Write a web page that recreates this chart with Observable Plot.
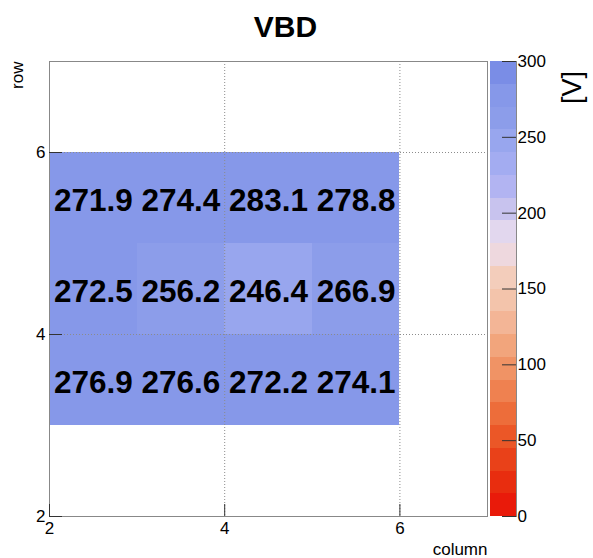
<!DOCTYPE html>
<html>
<head>
<meta charset="utf-8">
<script src="https://cdn.jsdelivr.net/npm/d3@7"></script>
<script src="https://cdn.jsdelivr.net/npm/@observablehq/plot@0.6"></script>
<style>
  body { margin: 0; background: #fff; }
  #chart { position: relative; width: 593px; height: 558px; font-family: "Liberation Sans", Arial, Helvetica, sans-serif; }
  #chart svg { position: absolute; left: 0; top: 0; }
</style>
</head>
<body>
<div id="chart"></div>
<script>
// Bin lower edges of the 2D histogram
const columns = [2, 3, 4, 5];
const rows = [5, 4, 3];
// Breakdown voltage per bin, one row per entry of `rows`
const vbd = [
  [271.9, 274.4, 283.1, 278.8],
  [272.5, 256.2, 246.4, 266.9],
  [276.9, 276.6, 272.2, 274.1]
];
const xTicks = [2, 4, 6];
const yTicks = [2, 4, 6];
const zTicks = [0, 50, 100, 150, 200, 250, 300];
// Contour levels of the palette (20 bands)
const zLevels = [0, 15, 30, 45, 60, 75, 90, 105, 120, 135, 150, 165, 180, 195, 210, 225, 240, 255, 270, 285, 300];
// Band colours, from the lowest level to the highest
const palette = [
  "#e91a0a", "#e82d0f", "#e94119", "#eb5727", "#ed6d3a",
  "#ef8150", "#f09365", "#f2a57c", "#f3b596", "#f3c4ab",
  "#f3cdbb", "#eed8de", "#e2d7ee", "#c8c3ee", "#b2b4f2",
  "#a3acf1", "#98a6ee", "#8c9dea", "#8698e9", "#7a8de6"
];

const W = 593, H = 558;
const frameL = 49, frameR = 487, frameT = 61, frameB = 516;
const barL = 490, barR = 516;
const font = "'Liberation Sans', Arial, Helvetica, sans-serif";

const color = { type: "threshold", domain: zLevels.slice(1, -1), range: palette };
const cells = rows.flatMap((r, i) => columns.map((c, j) => ({ row: r, col: c, v: vbd[i][j] })));
const bands = zLevels.slice(0, -1).map((lo, i) => ({ lo, hi: zLevels[i + 1] }));

const main = Plot.plot({
  width: W, height: H,
  marginLeft: frameL, marginRight: W - frameR, marginTop: frameT, marginBottom: H - frameB,
  style: { background: "transparent", fontFamily: font, color: "#000" },
  x: { domain: [2, 7] },
  y: { domain: [2, 7] },
  color,
  marks: [
    Plot.rect(cells, {
      x1: "col", x2: d => d.col + 1, y1: "row", y2: d => d.row + 1, fill: "v",
      shapeRendering: "crispEdges"
    }),
    Plot.ruleX([4, 6], { stroke: "#8c8c8c", strokeDasharray: "1,2" }),
    Plot.ruleY([4, 6], { stroke: "#8c8c8c", strokeDasharray: "1,2" }),
    Plot.text(cells, {
      x: d => d.col + 0.5, y: d => d.row + 0.5, text: d => d.v.toFixed(1),
      fontSize: 31.5, fontWeight: "bold", fill: "#000", dy: 3
    }),
    Plot.frame({ stroke: "#888" }),
    Plot.tickX(xTicks, { x: d => d, insetTop: (frameB - frameT) - 12, stroke: "#333" }),
    Plot.tickY(yTicks, { y: d => d, insetRight: (frameR - frameL) - 13, stroke: "#333" }),
    Plot.axisX(xTicks, { tickSize: 0, tickPadding: 5, fontSize: 17, label: null, tickFormat: "d" }),
    Plot.axisY(yTicks, { tickSize: 0, tickPadding: 4, fontSize: 17, label: null, tickFormat: "d" }),
    Plot.text(["row"], {
      text: d => d, frameAnchor: "top-left", rotate: -90, dx: -32,
      textAnchor: "end", lineAnchor: "middle", fontSize: 17
    }),
    Plot.text(["column"], {
      text: d => d, frameAnchor: "bottom-right", textAnchor: "end", lineAnchor: "bottom",
      dy: 38, fontSize: 17
    }),
    Plot.text(["VBD"], {
      text: d => d, frameAnchor: "top", dx: 17, dy: -25, textAnchor: "middle", lineAnchor: "bottom",
      fontSize: 30, fontWeight: "bold"
    })
  ]
});

const bar = Plot.plot({
  width: W, height: H,
  marginLeft: barL, marginRight: W - barR, marginTop: frameT, marginBottom: H - frameB,
  style: { background: "transparent", fontFamily: font, color: "#000" },
  y: { domain: [zLevels[0], zLevels[zLevels.length - 1]] },
  color,
  marks: [
    Plot.rect(bands, { y1: "lo", y2: "hi", fill: "lo", shapeRendering: "crispEdges" }),
    Plot.frame({ anchor: "right", stroke: "#888" }),
    Plot.tickY(zTicks, { y: d => d, insetLeft: 12, stroke: "#333" }),
    Plot.axisY(zTicks, { anchor: "right", tickSize: 0, tickPadding: 1, fontSize: 17, label: null }),
    Plot.text(["[V]"], {
      text: d => d, frameAnchor: "top-right", rotate: -90, dx: 56, dy: 26,
      textAnchor: "middle", lineAnchor: "middle", fontSize: 27
    })
  ]
});

const chart = document.getElementById("chart");
chart.appendChild(bar);
chart.appendChild(main);
</script>
</body>
</html>
